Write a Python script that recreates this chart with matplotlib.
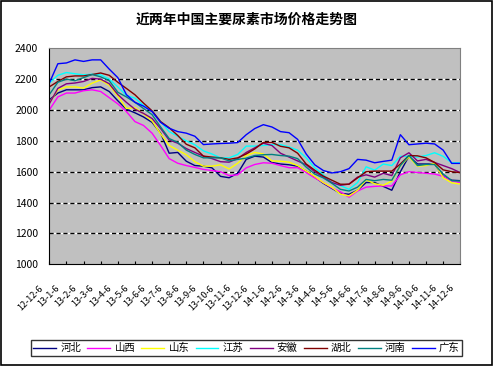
import matplotlib
matplotlib.use('Agg')
import matplotlib.pyplot as plt
import matplotlib.transforms as mtransforms
from matplotlib.patches import Rectangle
import numpy as np

plt.rcParams['font.family'] = ['Noto Sans CJK SC', 'DejaVu Sans']

title = '近两年中国主要尿素市场价格走势图'

# monthly labels, data sampled twice a month
month_labels = ['12-12-6', '13-1-6', '13-2-6', '13-3-6', '13-4-6', '13-5-6', '13-6-6',
                '13-7-6', '13-8-6', '13-9-6', '13-10-6', '13-11-6', '13-12-6',
                '14-1-6', '14-2-6', '14-3-6', '14-4-6', '14-5-6', '14-6-6',
                '14-7-6', '14-8-6', '14-9-6', '14-10-6', '14-11-6', '14-12-6']
t = np.arange(0, 24.5, 0.5)

hebei = [2066, 2110, 2131, 2131, 2131, 2145, 2150, 2120, 2060, 2005,
         1982, 1955, 1920, 1850, 1720, 1725, 1668, 1640, 1636, 1625,
         1570, 1561, 1590, 1680, 1701, 1695, 1660, 1650, 1645, 1636,
         1605, 1565, 1525, 1492, 1460, 1454, 1480, 1530, 1530, 1505,
         1480, 1600, 1700, 1650, 1650, 1650, 1570, 1545, 1542]
shanxi = [2000, 2085, 2110, 2110, 2125, 2131, 2120, 2080, 2040, 1990,
          1925, 1900, 1850, 1770, 1685, 1655, 1640, 1628, 1615, 1608,
          1600, 1575, 1580, 1625, 1647, 1658, 1655, 1640, 1626, 1626,
          1595, 1560, 1530, 1495, 1470, 1435, 1475, 1500, 1505, 1508,
          1508, 1580, 1600, 1595, 1590, 1585, 1570, 1540, 1530]
shandong = [2045, 2130, 2150, 2150, 2142, 2174, 2195, 2160, 2090, 2010,
            2015, 1975, 1930, 1845, 1770, 1740, 1710, 1665, 1636, 1636,
            1645, 1618, 1655, 1705, 1725, 1715, 1670, 1668, 1662, 1640,
            1605, 1570, 1530, 1500, 1455, 1443, 1480, 1548, 1522, 1512,
            1540, 1640, 1695, 1636, 1640, 1655, 1561, 1528, 1520]
jiangsu = [2175, 2225, 2243, 2235, 2228, 2232, 2228, 2200, 2150, 2095,
           2077, 2030, 1992, 1925, 1860, 1830, 1800, 1775, 1735, 1715,
           1690, 1690, 1712, 1766, 1766, 1770, 1776, 1776, 1760, 1740,
           1690, 1625, 1580, 1530, 1510, 1486, 1530, 1632, 1610, 1650,
           1640, 1700, 1700, 1695, 1705, 1723, 1700, 1658, 1658]
anhui = [2040, 2140, 2170, 2175, 2185, 2205, 2200, 2170, 2100, 2050,
         2005, 1978, 1945, 1880, 1805, 1785, 1750, 1725, 1701, 1685,
         1665, 1662, 1685, 1725, 1755, 1785, 1770, 1720, 1695, 1670,
         1645, 1600, 1565, 1530, 1512, 1520, 1565, 1580, 1565, 1590,
         1575, 1690, 1723, 1670, 1680, 1660, 1640, 1620, 1594]
hubei = [2150, 2185, 2215, 2221, 2221, 2230, 2240, 2225, 2180, 2140,
         2099, 2045, 1995, 1925, 1885, 1835, 1778, 1755, 1701, 1695,
         1690, 1680, 1690, 1715, 1748, 1790, 1790, 1765, 1755, 1720,
         1650, 1610, 1572, 1545, 1519, 1519, 1560, 1600, 1604, 1604,
         1604, 1650, 1705, 1703, 1690, 1660, 1612, 1600, 1594]
henan = [2100, 2180, 2200, 2190, 2210, 2230, 2215, 2190, 2115, 2085,
         2050, 2010, 1970, 1890, 1815, 1790, 1740, 1712, 1690, 1690,
         1690, 1670, 1680, 1688, 1705, 1710, 1712, 1705, 1701, 1685,
         1630, 1585, 1560, 1525, 1486, 1475, 1500, 1550, 1542, 1550,
         1545, 1640, 1705, 1640, 1647, 1647, 1585, 1542, 1540]
guangdong = [2175, 2300, 2305, 2325, 2315, 2325, 2325, 2265, 2210, 2100,
             2050, 2025, 1990, 1920, 1882, 1860, 1850, 1830, 1776, 1780,
             1783, 1785, 1789, 1840, 1880, 1905, 1890, 1860, 1853, 1810,
             1715, 1645, 1608, 1592, 1600, 1620, 1680, 1675, 1658, 1667,
             1675, 1840, 1775, 1780, 1785, 1780, 1740, 1654, 1654]

series = [('河北', hebei, '#000080'), ('山西', shanxi, '#FF00FF'),
          ('山东', shandong, '#FFFF00'), ('江苏', jiangsu, '#00FFFF'),
          ('安徽', anhui, '#800080'), ('湖北', hubei, '#800000'),
          ('河南', henan, '#008080'), ('广东', guangdong, '#0000FF')]

fig = plt.figure(figsize=(4.94, 3.66), dpi=100)
ax = fig.add_axes([49.3 / 494, 1 - 264.3 / 366, 411 / 494, 216 / 366])
ax.set_facecolor('#C0C0C0')

# excel style dashed grid: black dashes on white
for yv in [1200, 1400, 1600, 1800, 2000, 2200]:
    ax.axhline(yv, color='white', lw=1.0, zorder=1)
    ax.axhline(yv, color='black', lw=1.0, ls=(0, (3, 2)), zorder=1.1)

for name, vals, col in series:
    ax.plot(t, vals, color=col, lw=1.0, label=name, zorder=2)

ax.set_xlim(0, 24)
ax.set_ylim(1000, 2400)
ax.set_yticks(range(1000, 2401, 200))
ax.tick_params(axis='y', length=0, pad=8, labelsize=7.5)
ax.set_xticks(range(25))
ax.set_xticklabels(month_labels, rotation=45, ha='right', va='center',
                   rotation_mode='anchor', fontsize=6.5)
ax.tick_params(axis='x', direction='in', length=2.5, pad=16)
shift = mtransforms.ScaledTranslation(-8 / 100, 0, fig.dpi_scale_trans)
for lab in ax.get_xticklabels():
    lab.set_transform(lab.get_transform() + shift)

for s in ['left', 'bottom']:
    ax.spines[s].set_color('black')
for s in ['top', 'right']:
    ax.spines[s].set_color('#808080')

fig.text(247 / 494, 1 - 20 / 366, title, ha='center', va='center',
         fontsize=10, fontweight='bold')

leg = fig.legend(loc='center', bbox_to_anchor=(246.5 / 494, 1 - 348 / 366),
                 ncol=8, fontsize=7.5, frameon=True, fancybox=False,
                 edgecolor='black', handlelength=2.2, handletextpad=0.4,
                 columnspacing=0.6, borderpad=0.25, borderaxespad=0)
leg.get_frame().set_linewidth(1.0)

fig.patches.append(Rectangle((0.002, 0.002), 0.994, 0.994, transform=fig.transFigure,
                             fill=False, edgecolor='black', lw=1.2))

fig.savefig('out.png', dpi=100)
